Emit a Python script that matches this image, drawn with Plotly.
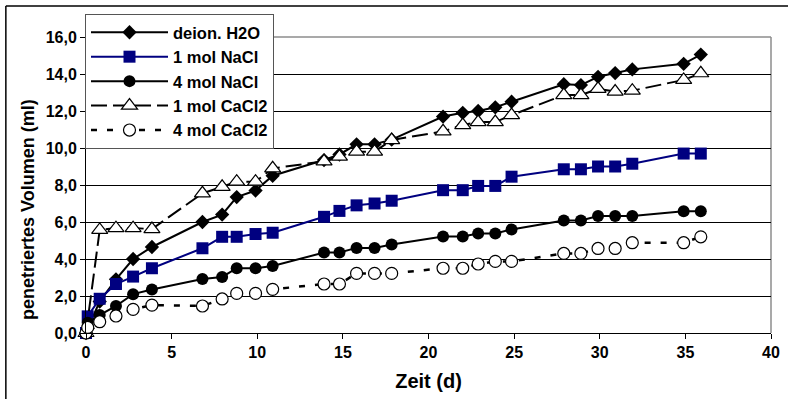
import plotly.graph_objects as go

# ---- data ----
days = [0, 0.1, 0.8, 1.75, 2.75, 3.85, 6.8, 7.95, 8.8, 9.9, 10.9,
        13.9, 14.8, 15.8, 16.85, 17.85, 20.85, 22.0, 22.9, 23.9, 24.85,
        27.9, 28.9, 29.9, 30.9, 31.9, 34.9, 35.9]

h2o = [0, 0.25, 1.7, 2.9, 4.0, 4.65, 6.0, 6.4, 7.35, 7.7, 8.5,
       9.35, 9.65, 10.2, 10.2, 10.45, 11.7, 11.9, 12.0, 12.2, 12.5,
       13.45, 13.4, 13.85, 14.05, 14.25, 14.55, 15.05]

nacl_1 = [0, 0.9, 1.85, 2.65, 3.05, 3.5, 4.58, 5.2, 5.2, 5.35, 5.42,
          6.28, 6.6, 6.9, 7.0, 7.15, 7.72, 7.72, 7.95, 7.95, 8.45,
          8.85, 8.85, 9.0, 9.0, 9.15, 9.7, 9.7]

nacl_4 = [0, 0.55, 0.97, 1.46, 2.1, 2.35, 2.92, 3.03, 3.5, 3.5, 3.62,
          4.35, 4.35, 4.6, 4.6, 4.78, 5.22, 5.22, 5.38, 5.38, 5.6,
          6.08, 6.08, 6.32, 6.32, 6.32, 6.58, 6.58]

cacl2_1 = [0, None, 5.57, 5.67, 5.67, 5.62, 7.55, 7.9, 8.18, 8.18, 8.9,
           9.28, 9.53, 9.8, 9.8, 10.43, 10.9, 11.24, 11.4, 11.4, 11.78,
           12.86, 12.86, 13.2, 13.05, 13.1, 13.68, 14.04]

cacl2_4 = [0, 0.3, 0.61, 0.92, 1.28, 1.51, 1.46, 1.84, 2.14, 2.14, 2.36,
           2.65, 2.65, 3.22, 3.22, 3.22, 3.5, 3.5, 3.73, 3.87, 3.87,
           4.3, 4.3, 4.57, 4.57, 4.88, 4.88, 5.2]

names = ["deion. H2O", "1 mol NaCl", "4 mol NaCl", "1 mol CaCl2", "4 mol CaCl2"]

y_ticks = [0, 2, 4, 6, 8, 10, 12, 14, 16]
y_ticktext = ["0,0", "2,0", "4,0", "6,0", "8,0", "10,0", "12,0", "14,0", "16,0"]
x_ticks = [0, 5, 10, 15, 20, 25, 30, 35, 40]
x_title = "Zeit (d)"
y_title = "penetriertes Volumen (ml)"

FONT = "Liberation Sans, Arial, sans-serif"

fig = go.Figure()

fig.add_trace(go.Scatter(
    x=days, y=h2o, name=names[0], mode="lines+markers",
    line=dict(color="black", width=2),
    marker=dict(symbol="diamond", size=11, color="black"),
    cliponaxis=False))

fig.add_trace(go.Scatter(
    x=days, y=nacl_1, name=names[1], mode="lines+markers",
    line=dict(color="#000080", width=2),
    marker=dict(symbol="square", size=12, color="#000080"),
    cliponaxis=False))

fig.add_trace(go.Scatter(
    x=days, y=nacl_4, name=names[2], mode="lines+markers",
    line=dict(color="black", width=2),
    marker=dict(symbol="circle", size=12, color="black"),
    cliponaxis=False))

fig.add_trace(go.Scatter(
    x=days, y=cacl2_1, name=names[3], mode="lines+markers",
    connectgaps=True,
    line=dict(color="black", width=2, dash="16px,6px"),
    marker=dict(symbol="triangle-up", size=14, color="white",
                line=dict(color="black", width=1.2)),
    cliponaxis=False))

fig.add_trace(go.Scatter(
    x=days, y=cacl2_4, name=names[4], mode="lines+markers",
    line=dict(color="black", width=2.5, dash="6px,10px"),
    marker=dict(symbol="circle", size=12, color="white",
                line=dict(color="black", width=1.2)),
    cliponaxis=False))

fig.update_layout(
    width=788, height=399,
    margin=dict(l=86, r=17, t=37, b=66, autoexpand=False),
    paper_bgcolor="white", plot_bgcolor="white",
    font=dict(family=FONT, size=16, color="black"),
    showlegend=True,
    legend=dict(
        xref="container", yref="container",
        x=85 / 788, y=1 - 14 / 399, xanchor="left", yanchor="top",
        bgcolor="white", bordercolor="#555555", borderwidth=1,
        font=dict(family=FONT, size=16.5, color="black", weight="bold"),
        itemwidth=77, entrywidth=190,
    ),
    xaxis=dict(
        range=[0, 40], tickvals=x_ticks, automargin=False,
        ticks="outside", ticklen=5, tickcolor="black",
        showline=True, linecolor="black", linewidth=1,
        showgrid=False, zeroline=False,
        tickfont=dict(family=FONT, size=16, weight="bold"),
        title=dict(text=x_title, standoff=13,
                   font=dict(family=FONT, size=20, weight="bold")),
    ),
    yaxis=dict(
        range=[0, 16], tickvals=y_ticks, ticktext=y_ticktext, automargin=False,
        ticks="outside", ticklen=5, tickcolor="black",
        showline=True, linecolor="black", linewidth=1,
        showgrid=True, gridcolor="black", gridwidth=1,
        zeroline=False,
        tickfont=dict(family=FONT, size=16, weight="bold"),
    ),
    annotations=[
        dict(text=y_title, textangle=-90, xref="paper", yref="paper",
             x=(28 - 86) / 685, y=(333 - 210) / 296,
             xanchor="center", yanchor="middle", showarrow=False,
             font=dict(family=FONT, size=18, weight="bold", color="black")),
    ],
    shapes=[
        # plot-area border (top and right, grey)
        dict(type="line", xref="paper", yref="paper", x0=0, x1=1, y0=1, y1=1,
             line=dict(color="#8c8c8c", width=1.5), layer="below"),
        dict(type="line", xref="paper", yref="paper", x0=1, x1=1, y0=0, y1=1,
             line=dict(color="#8c8c8c", width=1.5), layer="below"),
        # outer chart frame (top and left)
        dict(type="line", xref="paper", yref="paper", x0=-0.117, x1=1.1,
             y0=1.105, y1=1.105, line=dict(color="black", width=1.5)),
        dict(type="line", xref="paper", yref="paper", x0=-0.117, x1=-0.117,
             y0=-0.3, y1=1.105, line=dict(color="black", width=1.5)),
    ],
)

fig.write_html("out.html",
               config={"displayModeBar": False},
               post_script="document.body.style.margin='0';")
